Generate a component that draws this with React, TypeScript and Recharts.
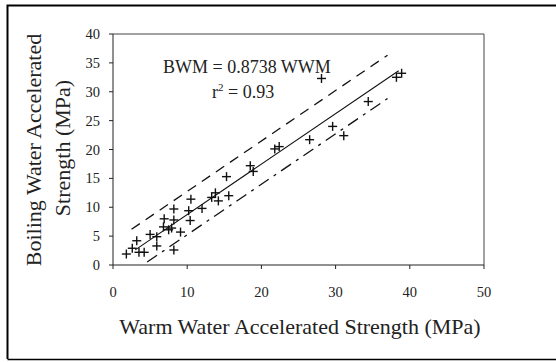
import React from "react";
import { ScatterChart, Scatter, XAxis, YAxis, ReferenceLine } from "recharts";

const warmStrength = [1.8, 2.6, 3.2, 3.5, 4.2, 5.0, 5.9, 5.9, 6.8, 6.9, 7.5, 7.9, 8.2, 8.2, 8.2, 9.1, 10.2, 10.5, 10.4, 12.0, 13.3, 13.8, 14.2, 15.3, 15.6, 18.5, 18.9, 21.8, 22.4, 26.5, 28.1, 29.6, 31.1, 34.4, 38.2, 38.9];
const boilingStrength = [1.9, 2.9, 4.2, 2.2, 2.2, 5.3, 4.9, 3.3, 6.6, 8.0, 6.1, 6.4, 9.7, 7.8, 2.6, 5.7, 9.4, 11.4, 7.7, 9.8, 11.7, 12.5, 11.1, 15.3, 12.0, 17.2, 16.2, 20.1, 20.5, 21.7, 32.3, 24.0, 22.4, 28.3, 32.5, 33.2];

const xTicks = [0, 10, 20, 30, 40, 50];
const yTicks = [0, 5, 10, 15, 20, 25, 30, 35, 40];

const slope = 0.8738;
const fitRange = [3, 38.5];
const upperOffset = 4.0;
const upperRange = [2.5, 37];
const lowerOffset = -3.5;
const lowerRange = [4.6, 37];

const points = warmStrength.map((x, i) => ({ x, y: boilingStrength[i] }));

const seg = (range: number[], off: number) => [
  { x: range[0], y: slope * range[0] + off },
  { x: range[1], y: slope * range[1] + off },
];

const font = "'Liberation Serif', 'Times New Roman', serif";

const Cross = (props: any) => {
  const { cx, cy } = props;
  if (cx == null || cy == null) return null;
  const a = 4.5;
  return (
    <g stroke="#111" strokeWidth={1.4}>
      <line x1={cx - a} y1={cy} x2={cx + a} y2={cy} />
      <line x1={cx} y1={cy - a} x2={cx} y2={cy + a} />
    </g>
  );
};

const XTick = (props: any) => {
  const { x, y, payload } = props;
  return (
    <text x={x} y={y} dy={10} textAnchor="middle" fontFamily={font} fontSize={14.5} fill="#222">
      {payload.value}
    </text>
  );
};

const YTick = (props: any) => {
  const { x, y, payload } = props;
  return (
    <text x={x} y={y} dy={5} textAnchor="end" fontFamily={font} fontSize={14.5} fill="#222">
      {payload.value}
    </text>
  );
};

export default function App() {
  return (
    <div style={{ position: "absolute", left: 0, top: 0, width: 556, height: 362, overflow: "hidden", background: "#fff" }}>
      <div style={{ position: "absolute", left: 0, top: 0 }}>
        <ScatterChart width={556} height={362} margin={{ top: 34, right: 72, bottom: 67, left: 53 }}>
          <XAxis
            type="number"
            dataKey="x"
            domain={[0, 50]}
            ticks={xTicks}
            height={30}
            tickSize={4}
            tickMargin={18}
            stroke="#222"
            tick={<XTick />}
            allowDataOverflow
          />
          <YAxis
            type="number"
            dataKey="y"
            domain={[0, 40]}
            ticks={yTicks}
            width={60}
            tickSize={4}
            tickMargin={9}
            stroke="#222"
            tick={<YTick />}
            allowDataOverflow
          />
          <ReferenceLine y={40} stroke="#444" strokeWidth={1} />
          <ReferenceLine x={50} stroke="#444" strokeWidth={1} />
          <ReferenceLine segment={seg(fitRange, 0)} stroke="#111" strokeWidth={1.1} />
          <ReferenceLine segment={seg(upperRange, upperOffset)} stroke="#111" strokeWidth={1.3} strokeDasharray="10 7" />
          <ReferenceLine segment={seg(lowerRange, lowerOffset)} stroke="#111" strokeWidth={1.3} strokeDasharray="12 6 3 6" />
          <Scatter data={points} shape={<Cross />} isAnimationActive={false} />
        </ScatterChart>
      </div>
      <svg width={556} height={362} style={{ position: "absolute", left: 0, top: 0, pointerEvents: "none" }}>
        <path d="M 7.5 359 L 7.5 5.5 L 556 5.5" fill="none" stroke="#000" strokeWidth={2} />
        <path d="M 7.5 359.5 L 556 359.5" fill="none" stroke="#000" strokeWidth={1.5} />
        <g fontFamily={font} fill="#222">
          <text x={163} y={73} fontSize={18}>BWM = 0.8738 WWM</text>
          <text x={212} y={98} fontSize={18}>
            r<tspan dy={-7} fontSize={11}>2</tspan><tspan dy={7}> = 0.93</tspan>
          </text>
          <text x={300} y={334} fontSize={22} textAnchor="middle">Warm Water Accelerated Strength (MPa)</text>
          <text transform="translate(41,150) rotate(-90)" fontSize={22} textAnchor="middle">Boiling Water Accelerated</text>
          <text transform="translate(70,148) rotate(-90)" fontSize={22} textAnchor="middle">Strength (MPa)</text>
        </g>
      </svg>
    </div>
  );
}
